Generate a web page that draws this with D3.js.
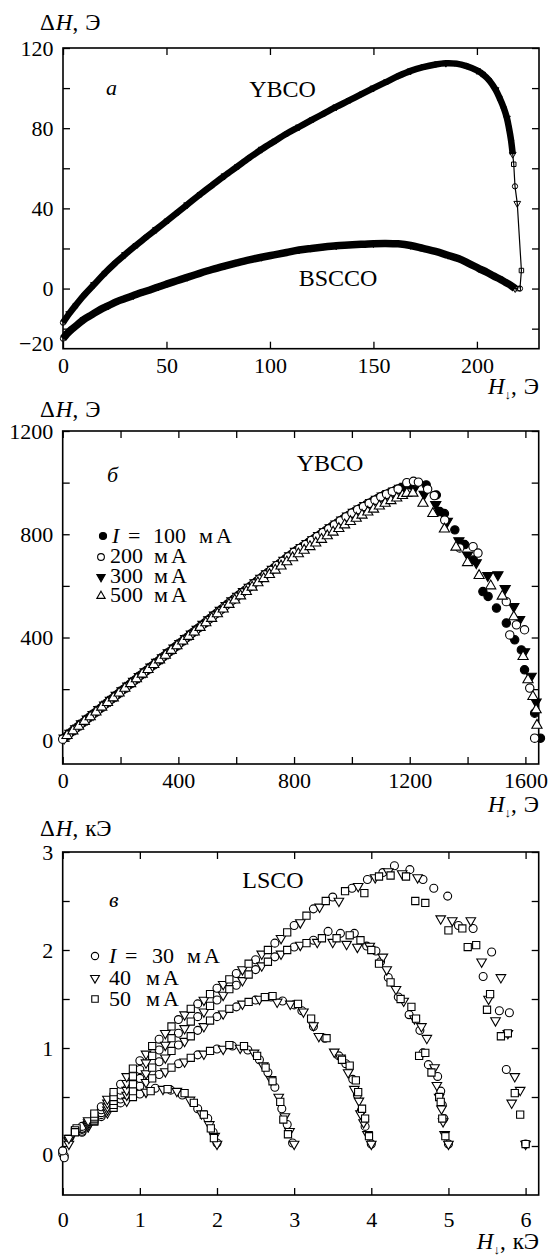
<!DOCTYPE html>
<html>
<head>
<meta charset="utf-8">
<script src="https://cdn.jsdelivr.net/npm/d3@7"></script>
<style>
  body { margin: 0; background: #fff; }
  svg text { font-family: "Liberation Serif", "DejaVu Serif", serif; }
</style>
</head>
<body>
<script>
// ---------- DATA ----------

// panel a: field H (Oe) vs ΔH (Oe)
const ybco = [[0,-17],[3,-12.5],[6,-8.5],[10,-3.5],[15,2],[20,7.5],[25,12.5],[30,17],[35,21.3],[40,25.5],
  [45,29.5],[50,33.6],[55,37.7],[60,41.8],[66,46.8],[72,51.5],[78,56.2],[84,60.7],[90,65.2],[96,69.5],
  [102,73.4],[108,77.2],[114,80.6],[120,84],[126,87.3],[132,90.6],[138,93.7],[144,96.9],[150,100],[156,103],
  [162,106],[168,108.6],[174,110.5],[180,111.8],[185,112.4],[190,112.2],[195,111],[200,108.8],[203,106.8],
  [206,103.8],[209,99.2],[211,95],[213,90],[214.5,85],[215.5,80],[216.5,74],[217.3,67],[217.8,62],
  [218.4,51],[219.5,42.5],[221.5,9],[220.8,0]];
const bscco = [[0,-25],[2,-22.5],[4,-20.5],[7,-18],[10,-15.5],[14,-13],[18,-10.5],[22,-8.5],[26,-6.5],
  [30,-5],[34,-3.5],[38,-2],[42,-0.7],[46,0.8],[50,2.2],[55,3.9],[60,5.6],[66,7.6],[72,9.5],[78,11.2],
  [84,12.8],[90,14.3],[96,15.6],[102,16.8],[108,18],[114,19.2],[120,20],[126,20.7],[132,21.3],[138,21.7],
  [144,22.1],[150,22.4],[156,22.5],[162,22.3],[168,21.5],[174,20],[180,18.5],[186,16.6],[191,15],
  [196,12.6],[201,10],[205,8],[208,6.3],[211,4.8],[214,3],[216.5,1.5],[218.5,0],[220,0]];

// panel b: YBCO at different currents
const s100 = [[10,15],[30,34],[50,52],[70,70],[90,89],[110,107],[130,125],[150,144],[170,162],[190,180],
  [210,199],[230,217],[250,235],[270,254],[290,272],[310,290],[330,308],[350,327],[370,345],[390,364],
  [410,382],[430,400],[450,419],[470,437],[490,455],[510,474],[530,492],[550,510],[570,529],[590,547],
  [610,565],[630,582],[650,599],[670,617],[690,634],[710,652],[730,669],[750,686],[770,704],[790,721],
  [810,738],[830,753],[850,768],[870,783],[890,798],[910,814],[930,829],[950,844],[970,859],[990,874],
  [1010,888],[1030,901],[1050,914],[1070,926],[1090,939],[1110,950],[1130,960],[1150,970],[1170,980],
  [1200,992],[1257,991],[1292,952],[1304,888],[1320,880],[1356,817],[1390,760],[1420,700],[1453,578],
  [1471,559],[1500,514],[1534,456],[1563,391],[1586,352],[1597,275],[1632,107],[1652,10]];
const s200 = [[0,6],[20,24],[40,43],[60,61],[80,79],[100,98],[120,116],[140,134],[160,153],[180,171],
  [200,190],[220,208],[240,226],[260,244],[280,263],[300,281],[320,299],[340,318],[360,336],[380,354],
  [400,373],[420,391],[440,409],[460,428],[480,446],[500,465],[520,483],[540,501],[560,520],[580,538],
  [600,556],[620,573],[640,591],[660,608],[680,626],[700,643],[720,660],[740,678],[760,695],[780,712],
  [800,730],[820,745],[840,760],[860,776],[880,791],[900,806],[920,821],[940,836],[960,852],[980,867],
  [1000,882],[1020,895],[1040,907],[1060,920],[1080,932],[1100,945],[1120,955],[1140,965],[1160,975],
  [1190,1000],[1213,1005],[1230,1002],[1262,975],[1285,950],[1321,855],[1373,747],[1419,752],[1436,727],
  [1534,539],[1546,410],[1569,449],[1597,430],[1615,204],[1632,10]];
const s300 = [[5,11],[25,29],[45,47],[65,66],[85,84],[105,102],[125,121],[145,139],[165,157],[185,176],
  [205,194],[225,212],[245,231],[265,249],[285,267],[305,286],[325,304],[345,322],[365,341],[385,359],
  [405,377],[425,396],[445,414],[465,432],[485,451],[505,469],[525,487],[545,506],[565,524],[585,542],
  [605,560],[625,578],[645,595],[665,612],[685,630],[705,647],[725,664],[745,682],[765,699],[785,717],
  [805,734],[825,749],[845,764],[865,779],[885,795],[905,810],[925,825],[945,840],[965,855],[985,871],
  [1005,885],[1025,898],[1045,911],[1065,923],[1085,936],[1105,948],[1125,958],[1145,968],[1165,978],[1185,986],
  [1215,975],[1250,955],[1290,915],[1330,850],[1370,775],[1400,720],[1430,690],[1470,640],[1505,643],
  [1530,590],[1560,520],[1580,470],[1597,345],[1620,250],[1637,150]];
const s500 = [[15,20],[35,38],[55,56],[75,75],[95,93],[115,111],[135,130],[155,148],[175,166],[195,185],
  [215,203],[235,221],[255,240],[275,258],[295,276],[315,295],[335,313],[355,331],[375,350],[395,368],
  [415,386],[435,404],[455,421],[475,439],[495,457],[515,474],[535,492],[555,510],[575,528],[595,545],
  [615,561],[635,578],[655,595],[675,612],[695,628],[715,644],[735,661],[755,677],[775,693],[795,709],
  [815,724],[835,738],[855,752],[875,766],[895,780],[915,794],[935,808],[955,822],[975,836],[995,849],
  [1015,862],[1035,874],[1055,886],[1075,897],[1095,909],[1115,920],[1135,930],[1155,940],[1175,950],[1190,958],
  [1211,959],[1246,920],[1280,880],[1320,820],[1360,750],[1400,690],[1440,640],[1480,600],[1520,560],
  [1560,480],[1592,326],[1609,236],[1626,171],[1637,120],[1640,60]];

// panel c: LSCO, H (kOe) vs ΔH (kOe), one run per maximum field
const c30_2 = [[0,-0.08],[0.25,0.14],[0.5,0.3],[0.75,0.44],[1.0,0.53],[1.2,0.59],[1.4,0.57],[1.55,0.52],[1.75,0.38],[1.88,0.28],[1.95,0.14],[2.0,0.03]];
const c40_2 = [[0.08,0.05],[0.33,0.2],[0.58,0.34],[0.83,0.46],[1.08,0.55],[1.3,0.58],[1.48,0.56],[1.65,0.47],[1.8,0.33],[1.9,0.22],[1.97,0.1],[2.0,0.02]];
const c50_2 = [[0.16,0.16],[0.41,0.25],[0.66,0.39],[0.91,0.5],[1.14,0.56],[1.36,0.58],[1.58,0.54],[1.7,0.44],[1.83,0.32],[1.92,0.18],[1.96,0.08]];
const c30_3 = [[0.02,-0.1],[0.25,0.15],[0.5,0.32],[0.75,0.48],[1.0,0.61],[1.25,0.73],[1.5,0.84],[1.75,0.93],[2.0,0.99],[2.2,1.02],[2.4,0.98],[2.55,0.88],[2.66,0.75],[2.75,0.6],[2.84,0.38],[2.91,0.22],[2.98,0.03]];
const c40_3 = [[0.1,0.08],[0.33,0.2],[0.58,0.37],[0.83,0.52],[1.08,0.65],[1.33,0.76],[1.58,0.86],[1.83,0.94],[2.08,0.99],[2.3,1.0],[2.48,0.95],[2.6,0.82],[2.7,0.68],[2.8,0.5],[2.88,0.3],[2.94,0.15],[3.0,0.02]];
const c50_3 = [[0.18,0.18],[0.41,0.26],[0.66,0.42],[0.91,0.56],[1.16,0.69],[1.41,0.8],[1.66,0.9],[1.91,0.97],[2.16,1.03],[2.35,1.02],[2.52,0.92],[2.63,0.8],[2.72,0.66],[2.82,0.45],[2.86,0.27],[2.92,0.12]];
const c30_4 = [[0,-0.05],[0.25,0.17],[0.5,0.34],[0.75,0.52],[1.0,0.69],[1.25,0.86],[1.5,1.03],[1.75,1.18],[2.0,1.32],[2.25,1.42],[2.5,1.49],[2.7,1.52],[2.85,1.48],[3.0,1.44],[3.1,1.38],[3.25,1.22],[3.4,1.1],[3.58,0.92],[3.67,0.84],[3.76,0.68],[3.82,0.52],[3.87,0.36],[3.92,0.2],[4.0,0.02]];
const c40_4 = [[0.08,0.06],[0.33,0.22],[0.58,0.4],[0.83,0.57],[1.08,0.74],[1.33,0.9],[1.58,1.07],[1.83,1.22],[2.08,1.35],[2.33,1.45],[2.55,1.5],[2.78,1.47],[2.95,1.45],[3.12,1.37],[3.25,1.23],[3.32,1.12],[3.52,0.96],[3.6,0.9],[3.7,0.75],[3.78,0.58],[3.84,0.46],[3.86,0.33],[3.9,0.24],[3.95,0.12],[4.0,0.02]];
const c50_4 = [[0.16,0.15],[0.41,0.28],[0.66,0.46],[0.91,0.63],[1.16,0.8],[1.41,0.97],[1.66,1.12],[1.91,1.28],[2.16,1.4],[2.41,1.47],[2.62,1.52],[2.72,1.53],[3.05,1.45],[3.22,1.3],[3.42,1.1],[3.62,0.88],[3.72,0.82],[3.8,0.67],[3.83,0.55],[3.88,0.38],[3.92,0.28],[3.97,0.1]];
const c30_5 = [[0.02,-0.12],[0.25,0.18],[0.5,0.37],[0.75,0.57],[1.0,0.78],[1.25,0.98],[1.5,1.15],[1.75,1.32],[2.0,1.49],[2.25,1.64],[2.5,1.8],[2.75,1.93],[3.0,2.03],[3.25,2.1],[3.44,2.19],[3.6,2.17],[3.78,2.17],[3.94,2.04],[4.06,1.99],[4.12,1.88],[4.22,1.72],[4.35,1.52],[4.49,1.34],[4.63,1.18],[4.67,0.95],[4.74,0.83],[4.86,0.71],[4.9,0.56],[4.92,0.42],[4.94,0.28],[5.0,0.02]];
const c40_5 = [[0.08,0.02],[0.33,0.24],[0.58,0.44],[0.83,0.64],[1.08,0.85],[1.33,1.03],[1.58,1.2],[1.83,1.37],[2.08,1.54],[2.33,1.69],[2.58,1.84],[2.83,1.96],[3.08,2.05],[3.3,2.08],[3.5,2.08],[3.68,2.06],[3.82,2.03],[3.98,2.04],[4.15,1.93],[4.2,1.8],[4.32,1.6],[4.42,1.48],[4.56,1.3],[4.65,1.22],[4.72,1.1],[4.82,0.8],[4.85,0.62],[4.88,0.5],[4.91,0.38],[4.93,0.25],[4.95,0.12],[5.0,0.02]];
const c50_5 = [[0.16,0.16],[0.41,0.3],[0.66,0.5],[0.91,0.71],[1.16,0.92],[1.41,1.1],[1.66,1.27],[1.91,1.43],[2.16,1.6],[2.41,1.75],[2.66,1.88],[2.91,2.0],[3.16,2.07],[3.36,2.12],[3.55,2.12],[3.72,2.15],[3.86,2.1],[4.0,2.0],[4.1,1.86],[4.25,1.67],[4.38,1.5],[4.52,1.42],[4.58,1.3],[4.62,0.92],[4.7,0.95],[4.78,0.75],[4.88,0.5],[4.9,0.45],[4.92,0.28],[4.96,0.1]];
const c30_6 = [[0,-0.05],[0.25,0.2],[0.5,0.4],[0.75,0.63],[1.0,0.87],[1.25,1.09],[1.5,1.29],[1.75,1.45],[2.0,1.61],[2.25,1.76],[2.5,1.9],[2.75,2.07],[3.0,2.25],[3.25,2.42],[3.5,2.54],[3.75,2.63],[3.95,2.72],[4.15,2.79],[4.3,2.86],[4.5,2.82],[4.67,2.72],[4.81,2.63],[4.99,2.55],[5.13,2.25],[5.32,2.22],[5.56,1.98],[5.45,1.73],[5.66,1.38],[5.79,1.36],[5.75,0.78],[6.0,0.02]];
const c40_6 = [[0.08,0.08],[0.33,0.26],[0.58,0.48],[0.83,0.71],[1.08,0.94],[1.33,1.15],[1.58,1.34],[1.83,1.49],[2.08,1.65],[2.33,1.8],[2.58,1.96],[2.83,2.12],[3.08,2.28],[3.33,2.44],[3.58,2.5],[3.83,2.65],[4.05,2.74],[4.22,2.8],[4.4,2.78],[4.6,2.74],[4.9,2.32],[5.05,2.3],[5.29,2.3],[5.43,1.88],[5.52,1.5],[5.61,1.28],[5.68,1.72],[5.77,1.15],[5.86,0.71],[5.82,0.44],[5.93,0.57],[6.0,0.02]];
const c50_6 = [[0.16,0.14],[0.41,0.33],[0.66,0.55],[0.91,0.79],[1.16,1.02],[1.41,1.22],[1.66,1.4],[1.91,1.55],[2.16,1.7],[2.41,1.86],[2.66,2.0],[2.91,2.18],[3.16,2.35],[3.41,2.5],[3.66,2.6],[3.91,2.58],[4.1,2.75],[4.25,2.76],[4.45,2.75],[4.57,2.5],[4.7,2.48],[5.0,2.2],[5.18,2.22],[5.25,2.03],[5.36,2.05],[5.5,1.39],[5.54,1.55],[5.77,1.15],[5.68,1.12],[5.86,0.54],[5.93,0.32],[6.0,0.02]];

// ticks and labels
const aXTicks = [0, 50, 100, 150, 200];
const aYTicks = [-20, 0, 20, 40, 60, 80, 100, 120];
const aYLabels = [-20, 0, 40, 80, 120];
const bXTicks = [0, 200, 400, 600, 800, 1000, 1200, 1400, 1600];
const bXLabels = [0, 400, 800, 1200, 1600];
const bYTicks = [0, 200, 400, 600, 800, 1000, 1200];
const bYLabels = [0, 400, 800, 1200];
const cXTicks = [0, 1, 2, 3, 4, 5, 6];
const cYTicks = [0, 0.5, 1, 1.5, 2, 2.5, 3];
const cYLabels = [0, 1, 2, 3];

const legendB = ["100", "200", "300", "500"];
const legendC = ["30", "40", "50"];

// ---------- DRAWING ----------
const SERIF = "Liberation Serif, DejaVu Serif, serif";
const svg = d3.select("body").append("svg")
  .attr("width", 553).attr("height", 1256)
  .style("display", "block")
  .attr("font-family", SERIF);

const FS = 22;
const TICK = 7;

function txt(x, y, size) {
  return svg.append("text").attr("x", x).attr("y", y)
    .attr("font-size", size).attr("font-family", SERIF).attr("fill", "#000");
}

function panel(o) {
  const x = d3.scaleLinear().domain(o.xd).range([o.l, o.r]);
  const y = d3.scaleLinear().domain(o.yd).range([o.b, o.t]);
  const g = svg.append("g");

  const fmt = labels => d => labels.includes(d) ? String(d).replace("-", "\u2212") : "";

  const ax = g.append("g").attr("transform", `translate(0,${o.b})`)
    .call(d3.axisBottom(x).tickValues(o.xt).tickSizeInner(-TICK).tickSizeOuter(0)
      .tickPadding(8.5).tickFormat(fmt(o.xl)));
  const ay = g.append("g").attr("transform", `translate(${o.l},0)`)
    .call(d3.axisLeft(y).tickValues(o.yt).tickSizeInner(-TICK).tickSizeOuter(0)
      .tickPadding(9.5).tickFormat(fmt(o.yl)));
  g.append("g").attr("transform", `translate(0,${o.t})`)
    .call(d3.axisTop(x).tickValues(o.xt).tickSizeInner(-TICK).tickSizeOuter(0).tickFormat(""));
  g.append("g").attr("transform", `translate(${o.r},0)`)
    .call(d3.axisRight(y).tickValues(o.yt).tickSizeInner(-TICK).tickSizeOuter(0).tickFormat(""));

  g.selectAll(".domain").remove();
  g.selectAll("g").attr("font-family", SERIF).attr("font-size", FS);
  g.selectAll(".tick line").attr("stroke", "#000").attr("stroke-width", 1.3);
  g.selectAll(".tick text").attr("fill", "#000");

  g.append("rect").attr("x", o.l).attr("y", o.t)
    .attr("width", o.r - o.l).attr("height", o.b - o.t)
    .attr("fill", "none").attr("stroke", "#000").attr("stroke-width", 1.6);

  // y title  ΔH, unit
  const yt = txt(40, o.t - o.ytGap, 23);
  yt.append("tspan").text("Δ");
  yt.append("tspan").attr("font-style", "italic").attr("dx", 1).text("H");
  yt.append("tspan").text(",");
  yt.append("tspan").attr("dx", 7).text(o.unit);

  // x title  H↓, unit
  const xt = txt(539, o.b + o.xtGap, 23).attr("text-anchor", "end");
  xt.append("tspan").attr("font-style", "italic").text("H");
  xt.append("tspan").attr("font-size", 13).attr("dy", 5).text("↓");
  xt.append("tspan").attr("dy", -5).text(",");
  xt.append("tspan").attr("dx", 7).text(o.unit);

  // panel letter
  txt(o.letterX, o.letterY, FS).attr("font-style", "italic").text(o.letter);

  return { x, y, g, ax, ay };
}

const sym = (type, size) => d3.symbol().type(type).size(size)();

function markers(g, pts, x, y, type, size, fill, flip, sw) {
  g.append("g").selectAll("path").data(pts).join("path")
    .attr("transform", d => `translate(${x(d[0])},${y(d[1])})` + (flip ? " rotate(180)" : ""))
    .attr("d", sym(type, size))
    .attr("fill", fill).attr("stroke", "#000").attr("stroke-width", sw || 1.1);
}

// legend line: marker + "I = n мА", pieces placed at the measured offsets
function legendRow(mx, my, type, size, fill, flip, x0, y0, first, num, numX, unitX) {
  svg.append("path").attr("transform", `translate(${mx},${my})` + (flip ? " rotate(180)" : ""))
    .attr("d", sym(type, size)).attr("fill", fill).attr("stroke", "#000").attr("stroke-width", 1.1);
  if (first) {
    txt(x0, y0, FS).attr("font-style", "italic").text("I");
    txt(x0 + 16, y0, FS).text("=");
  }
  txt(numX, y0, FS).text(num);
  txt(unitX, y0, FS).attr("letter-spacing", 3).text("мА");
}

// ----- panel a -----
const A = panel({ l: 63, r: 539, t: 48, b: 348.7, xd: [0, 230], yd: [-30, 120],
  xt: aXTicks, xl: aXTicks, yt: aYTicks, yl: aYLabels, unit: "Э",
  ytGap: 18, xtGap: 45, letter: "a", letterX: 106, letterY: 95 });
// the −20 label sits at the bottom edge
A.ay.selectAll(".tick").filter(d => d === -20).select("text").attr("dy", "1.0em");

const lineA = d3.line().x(d => A.x(d[0])).y(d => A.y(d[1]));
const cut = ybco.findIndex(d => d[0] > 217.5);
A.g.append("path").datum(ybco).attr("d", lineA.curve(d3.curveLinear))
  .attr("fill", "none").attr("stroke", "#000").attr("stroke-width", 1.2);
A.g.append("path").datum(ybco.slice(0, cut)).attr("d", lineA.curve(d3.curveCatmullRom))
  .attr("fill", "none").attr("stroke", "#000").attr("stroke-width", 6.5).attr("stroke-linejoin", "round");
A.g.append("path").datum(bscco.slice(0, -1)).attr("d", lineA.curve(d3.curveCatmullRom))
  .attr("fill", "none").attr("stroke", "#000").attr("stroke-width", 7.5).attr("stroke-linejoin", "round");
A.g.append("path").datum(bscco).attr("d", lineA.curve(d3.curveLinear))
  .attr("fill", "none").attr("stroke", "#000").attr("stroke-width", 1.2);
[ybco, bscco].forEach(arr => {
  markers(A.g, arr.filter((d, i) => i % 3 === 0), A.x, A.y, d3.symbolCircle, 22, "none", false, 1);
  markers(A.g, arr.filter((d, i) => i % 3 === 1), A.x, A.y, d3.symbolTriangle, 20, "none", true, 1);
  markers(A.g, arr.filter((d, i) => i % 3 === 2), A.x, A.y, d3.symbolSquare, 20, "none", false, 1);
});
txt(282.5, 97, 24).attr("text-anchor", "middle").text("YBCO");
txt(338, 286, 24).attr("text-anchor", "middle").text("BSCCO");

// ----- panel b -----
const B = panel({ l: 62.7, r: 538.7, t: 431, b: 764, xd: [0, 1646], yd: [-90, 1200],
  xt: bXTicks, xl: bXLabels, yt: bYTicks, yl: bYLabels, unit: "Э",
  ytGap: 14, xtGap: 48, letter: "б", letterX: 107, letterY: 482 });

const bStyles = [
  { data: s100, type: d3.symbolCircle, size: 55, fill: "#000", flip: false },
  { data: s300, type: d3.symbolTriangle, size: 45, fill: "#000", flip: true },
  { data: s200, type: d3.symbolCircle, size: 55, fill: "#fff", flip: false },
  { data: s500, type: d3.symbolTriangle, size: 45, fill: "#fff", flip: false }
];
bStyles.forEach(s => markers(B.g, s.data, B.x, B.y, s.type, s.size, s.fill, s.flip));
txt(330, 471, 24).attr("text-anchor", "middle").text("YBCO");

legendRow(103, 536, d3.symbolCircle, 40, "#000", false, 112, 543, true, legendB[0], 153, 199);
legendRow(101, 557, d3.symbolCircle, 36, "#fff", false, 0, 563, false, legendB[1], 110, 154);
legendRow(101, 577, d3.symbolTriangle, 30, "#000", true, 0, 582.5, false, legendB[2], 110, 154);
legendRow(101, 596, d3.symbolTriangle, 30, "#fff", false, 0, 602, false, legendB[3], 110, 154);

// ----- panel c -----
const C = panel({ l: 62.7, r: 538.7, t: 852, b: 1195, xd: [0, 6.17], yd: [-0.5, 3],
  xt: cXTicks, xl: cXTicks, yt: cYTicks, yl: cYLabels, unit: "кЭ",
  ytGap: 16, xtGap: 54, letter: "в", letterX: 109, letterY: 907 });
C.ay.selectAll(".tick").filter(d => d === 0).select("text").attr("dy", "0.7em");
C.ax.selectAll(".tick text").attr("dy", "1.05em");

const cRuns = [
  { runs: [c30_2, c30_3, c30_4, c30_5, c30_6], type: d3.symbolCircle, size: 50, flip: false },
  { runs: [c40_2, c40_3, c40_4, c40_5, c40_6], type: d3.symbolTriangle, size: 40, flip: true },
  { runs: [c50_2, c50_3, c50_4, c50_5, c50_6], type: d3.symbolSquare, size: 52, flip: false }
];
cRuns.forEach(s => s.runs.forEach(r => markers(C.g, r, C.x, C.y, s.type, s.size, "#fff", s.flip)));
txt(273, 888, 24).attr("text-anchor", "middle").text("LSCO");

legendRow(95, 956, d3.symbolCircle, 42, "#fff", false, 109, 963, true, legendC[0], 152, 187);
legendRow(95, 978, d3.symbolTriangle, 34, "#fff", true, 0, 985, false, legendC[1], 109, 146);
legendRow(95, 999, d3.symbolSquare, 42, "#fff", false, 0, 1006, false, legendC[2], 109, 146);
</script>
</body>
</html>
